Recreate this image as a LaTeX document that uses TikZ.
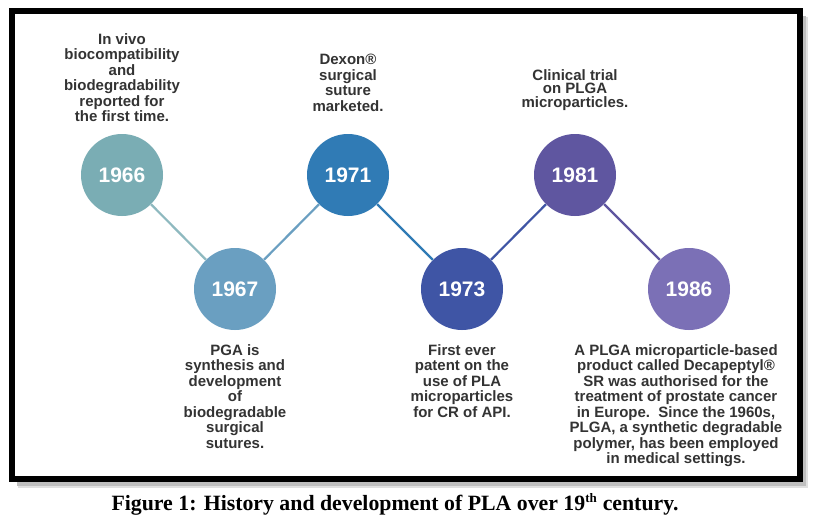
\documentclass[tikz,border=0pt]{standalone}
\usepackage{fontspec}
\setmainfont{Liberation Sans}
\newfontfamily\captionfont{Liberation Serif}
\definecolor{cA}{HTML}{7AADB4}
\definecolor{cB}{HTML}{6A9FC1}
\definecolor{cC}{HTML}{307BB5}
\definecolor{cD}{HTML}{3F55A5}
\definecolor{cE}{HTML}{5F56A0}
\definecolor{cF}{HTML}{7B70B6}
\definecolor{ink}{HTML}{333333}
\begin{document}
\begin{tikzpicture}[x=1pt,y=-1pt,
        year/.style={circle,minimum size=82pt,inner sep=0pt,text=white,font=\fontsize{21}{21}\selectfont\bfseries},
        event/.style={align=center,inner sep=0pt,text=ink,font=\fontsize{15}{15.5}\selectfont\bfseries},
        link/.style={line width=2.2pt}]
    \useasboundingbox (0,0) rectangle (814,525);
    \fill[white] (0,0) rectangle (814,525);

    % frame with shadow
    \fill[black!25] (17,480) rectangle (806,486);
    \fill[black!25] (801,16) rectangle (806,486);
    \fill[black!12] (18,486) rectangle (808,488);
    \fill[black!12] (806,17) rectangle (808,488);
    \draw[line width=6pt] (12,11) rectangle (799.5,478.5);

    % years
    \node[year,fill=cA] at (122,175) (y66) {1966};
    \node[year,fill=cB] at (235,289) (y67) {1967};
    \node[year,fill=cC] at (348,175) (y71) {1971};
    \node[year,fill=cD] at (462,289) (y73) {1973};
    \node[year,fill=cE] at (575,175) (y81) {1981};
    \node[year,fill=cF] at (689,289) (y86) {1986};

    \draw[link,cA!85!white] (y66) -- (y67);
    \draw[link,cB] (y67) -- (y71);
    \draw[link,cC] (y71) -- (y73);
    \draw[link,cD] (y73) -- (y81);
    \draw[link,cE] (y81) -- (y86);

    % events
    \node[event,anchor=north] at (122,33) (t66) {In vivo\\biocompatibility\\and\\biodegradability\\reported for\\the first time.};
    \node[event,anchor=north] at (348,54) (t71) {Dexon®\\surgical\\suture\\marketed.};
    \node[event,anchor=north,font=\fontsize{15}{13.5}\selectfont\bfseries] at (575,69) (t81) {Clinical trial\\on PLGA\\microparticles.};
    \node[event,anchor=north] at (235,344) (t67) {PGA is\\synthesis and\\development\\of\\biodegradable\\surgical\\sutures.};
    \node[event,anchor=north] at (462,344) (t73) {First ever\\patent on the\\use of PLA\\microparticles\\for CR of API.};
    \node[event,anchor=north] at (676,344) (t86) {A PLGA microparticle-based\\product called Decapeptyl®\\SR was authorised for the\\treatment of prostate cancer\\in Europe.\ \ Since the 1960s,\\PLGA, a synthetic degradable\\polymer, has been employed\\in medical settings.};

    % caption
    \node[anchor=base,inner sep=0pt,font=\captionfont\fontsize{21.8}{22}\selectfont\bfseries] at (395,510) (cap) {Figure 1: History and development of PLA over 19\textsuperscript{\fontsize{13}{13}\selectfont th} century.};
\end{tikzpicture}
\end{document}
